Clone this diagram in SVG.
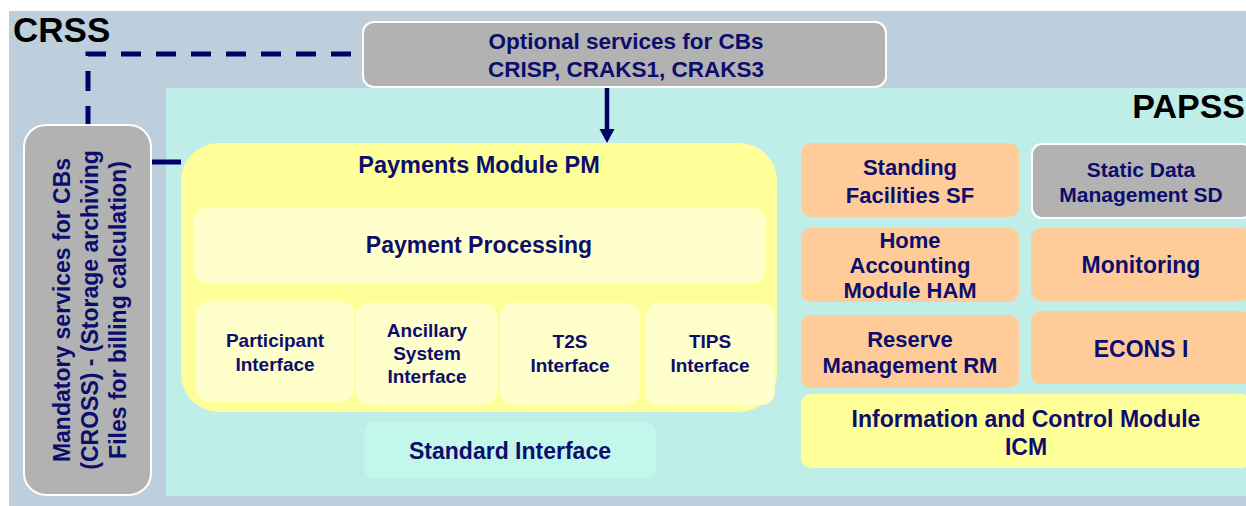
<svg xmlns="http://www.w3.org/2000/svg" width="1246" height="506" viewBox="0 0 1246 506">
<defs>
<style>
.t{font-family:"Liberation Sans",Arial,sans-serif;font-weight:bold;fill:#0D0D6B;text-anchor:middle}
.h{font-family:"Liberation Sans",Arial,sans-serif;font-weight:bold;fill:#000000}
.gray{fill:#B2B2B2;stroke:#FFFFFF;stroke-width:2}
.org{fill:#FFCC99}
.yel{fill:#FFFF99}
.lyel{fill:#FFFFCC}
.cn{stroke:#000066;fill:none}
</style>
</defs>
<rect width="1246" height="506" fill="#FFFFFF"/>
<g id="crss">
<rect x="9" y="11" width="1237" height="495" fill="#BDCFDC"/>
<text class="h" x="13" y="42" font-size="35">CRSS</text>
</g>
<g id="papss">
<rect x="166" y="88" width="1080" height="408" fill="#BFEEE8"/>
<text class="h" x="1245" y="118" font-size="34" text-anchor="end">PAPSS</text>
</g>
<g id="connectors">
<path class="cn" d="M351 54 H88 V125" stroke-width="5" stroke-dasharray="20 15"/>
<line class="cn" x1="151" y1="162" x2="181" y2="162" stroke-width="5"/>
<line class="cn" x1="607" y1="88" x2="607" y2="130" stroke-width="4.5"/>
<path d="M599.5 129 L614.5 129 L607 143 Z" fill="#000066"/>
</g>
<g id="optional">
<rect class="gray" x="363" y="22" width="523" height="65" rx="11"/>
<text class="t" x="626" y="49" font-size="22.5">Optional services for CBs</text>
<text class="t" x="626" y="77" font-size="22.5">CRISP, CRAKS1, CRAKS3</text>
</g>
<g id="mandatory">
<rect class="gray" x="24" y="125" width="127" height="370" rx="22"/>
<g transform="translate(0 310) rotate(-90)" font-size="23">
<text class="t" x="0" y="70">Mandatory services for CBs</text>
<text class="t" x="0" y="98">(CROSS) - (Storage archiving</text>
<text class="t" x="0" y="126">Files for billing calculation)</text>
</g>
</g>
<g id="pm">
<rect class="yel" x="181" y="143" width="596" height="269" rx="38"/>
<text class="t" x="479" y="173" font-size="23.5">Payments Module PM</text>
</g>
<g id="payment-processing">
<rect class="lyel" x="194" y="208" width="571" height="75" rx="12"/>
<text class="t" x="479" y="253" font-size="23">Payment Processing</text>
</g>
<g id="participant">
<rect class="lyel" x="196" y="301" width="158" height="101" rx="14"/>
<text class="t" x="275" y="347" font-size="19">Participant</text>
<text class="t" x="275" y="371" font-size="19">Interface</text>
</g>
<g id="ancillary">
<rect class="lyel" x="356" y="303" width="141" height="102" rx="14"/>
<text class="t" x="427" y="337" font-size="19">Ancillary</text>
<text class="t" x="427" y="360" font-size="19">System</text>
<text class="t" x="427" y="383" font-size="19">Interface</text>
</g>
<g id="t2s">
<rect class="lyel" x="500" y="303" width="140" height="102" rx="14"/>
<text class="t" x="570" y="348" font-size="19">T2S</text>
<text class="t" x="570" y="372" font-size="19">Interface</text>
</g>
<g id="tips">
<rect class="lyel" x="645" y="303" width="130" height="102" rx="14"/>
<text class="t" x="710" y="348" font-size="19">TIPS</text>
<text class="t" x="710" y="372" font-size="19">Interface</text>
</g>
<g id="standard">
<rect x="364" y="422" width="292" height="56" rx="10" fill="#C2F7EC"/>
<text class="t" x="510" y="459" font-size="23">Standard Interface</text>
</g>
<g id="sf">
<rect class="org" x="801" y="143" width="218" height="74" rx="10"/>
<text class="t" x="910" y="175" font-size="22">Standing</text>
<text class="t" x="910" y="203" font-size="22">Facilities SF</text>
</g>
<g id="sd">
<rect class="gray" x="1032" y="144" width="220" height="74" rx="10"/>
<text class="t" x="1141" y="177" font-size="21">Static Data</text>
<text class="t" x="1141" y="202" font-size="21">Management SD</text>
</g>
<g id="ham">
<rect class="org" x="801" y="228" width="218" height="74" rx="10"/>
<text class="t" x="910" y="248" font-size="22">Home</text>
<text class="t" x="910" y="273" font-size="22">Accounting</text>
<text class="t" x="910" y="298" font-size="22">Module HAM</text>
</g>
<g id="monitoring">
<rect class="org" x="1031" y="228" width="220" height="73" rx="10"/>
<text class="t" x="1141" y="273" font-size="23">Monitoring</text>
</g>
<g id="rm">
<rect class="org" x="801" y="315" width="218" height="73" rx="10"/>
<text class="t" x="910" y="347" font-size="22">Reserve</text>
<text class="t" x="910" y="373" font-size="22">Management RM</text>
</g>
<g id="econs">
<rect class="org" x="1031" y="311" width="220" height="73" rx="10"/>
<text class="t" x="1141" y="357" font-size="23">ECONS I</text>
</g>
<g id="icm">
<rect class="yel" x="801" y="394" width="450" height="74" rx="10"/>
<text class="t" x="1026" y="427" font-size="23">Information and Control Module</text>
<text class="t" x="1026" y="455" font-size="23">ICM</text>
</g>
</svg>
